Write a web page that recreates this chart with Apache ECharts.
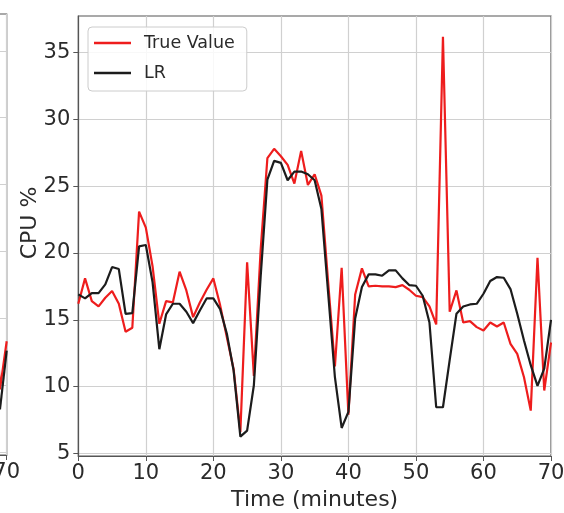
<!DOCTYPE html>
<html>
<head>
<meta charset="utf-8">
<script src="https://cdn.jsdelivr.net/npm/echarts@6/dist/echarts.min.js"></script>
<style>
  html, body { margin: 0; padding: 0; background: #fff; }
  #chart { width: 564px; height: 513px; }
</style>
</head>
<body>
<div id="chart"></div>
<script>
// Time axis (minutes)
const minutes = [0,1,2,3,4,5,6,7,8,9,10,11,12,13,14,15,16,17,18,19,20,21,22,23,24,25,26,27,28,29,30,31,32,33,34,35,36,37,38,39,40,41,42,43,44,45,46,47,48,49,50,51,52,53,54,55,56,57,58,59,60,61,62,63,64,65,66,67,68,69,70];

// Measured CPU utilisation (%)
const trueValue = [16.2,18.1,16.4,16.0,16.65,17.15,16.2,14.1,14.4,23.1,
  21.9,19.0,14.7,16.4,16.3,18.6,17.2,15.2,16.3,17.25,
  18.1,16.1,13.7,11.3,6.6,19.3,10.8,20.2,27.1,27.8,
  27.25,26.6,25.2,27.65,25.1,25.9,24.3,17.8,11.5,18.9,
  7.9,16.9,18.85,17.5,17.55,17.5,17.5,17.45,17.6,17.25,
  16.8,16.7,16.0,14.65,36.2,15.6,17.2,14.8,14.9,14.45,
  14.2,14.8,14.5,14.8,13.2,12.45,10.7,8.2,19.65,9.7,13.3];

// Linear regression forecast (%)
const lrPred = [16.9,16.6,17.0,17.0,17.65,18.95,18.8,15.45,15.5,20.5,
  20.6,17.8,12.8,15.4,16.2,16.2,15.6,14.75,15.7,16.6,
  16.6,15.8,13.95,11.2,6.25,6.7,10.1,18.2,25.5,26.9,
  26.75,25.45,26.1,26.1,25.9,25.45,23.3,17.0,10.7,6.9,
  8.1,15.1,17.45,18.4,18.4,18.3,18.7,18.7,18.1,17.6,
  17.55,16.8,14.8,8.45,8.45,12.0,15.45,16.0,16.15,16.2,
  16.95,17.9,18.2,18.15,17.3,15.45,13.45,11.6,10.05,11.35,15.0];

// Neighbouring panel: forecast tail (minute, %)
const sidePanelMinutes = [69, 70];
const sidePanelPred = [8.2, 12.6];

const yTicks = [5, 10, 15, 20, 25, 30, 35];

const RED = '#ee1d1d';
const BLACK = '#1c1c1c';
const FRAME = '#555555';
const GRID = '#d0d0d0';
const TEXT = '#2a2a2a';
const FONT = 'DejaVu Sans';

const pairs = (xs, ys) => xs.map((x, i) => [x, ys[i]]);

const chart = echarts.init(document.getElementById('chart'), null, { renderer: 'canvas' });

function valueAxisY(gridIndex, withLabels) {
  return {
    type: 'value', gridIndex, min: 4.8, max: 37.75,
    axisLine: { show: true, lineStyle: { color: FRAME, width: 1.2 } },
    axisTick: { show: true, inside: false, length: 5, customValues: yTicks, lineStyle: { color: FRAME, width: 1 } },
    axisLabel: { show: withLabels, customValues: yTicks, margin: 8, color: TEXT, fontFamily: FONT, fontSize: 21 },
    splitLine: { show: true, lineStyle: { color: GRID, width: 1.2 } },
    name: withLabels ? 'CPU %' : '', nameLocation: 'middle', nameGap: 37, nameMoveOverlap: false,
    nameTextStyle: { color: TEXT, fontFamily: FONT, fontSize: 22, padding: [0, 0, 0, 26] }
  };
}

function valueAxisX(gridIndex, withName) {
  return {
    type: 'value', gridIndex, min: 0, max: 70, interval: 10,
    axisLine: { show: true, onZero: false, lineStyle: { color: FRAME, width: 1.2 } },
    axisTick: { show: true, inside: false, length: 5, lineStyle: { color: FRAME, width: 1 } },
    axisLabel: { show: true, margin: 7, color: TEXT, fontFamily: FONT, fontSize: 21,
                 showMinLabel: true, showMaxLabel: true, hideOverlap: false },
    splitLine: { show: true, lineStyle: { color: GRID, width: 1.2 } },
    name: withName ? 'Time (minutes)' : '', nameLocation: 'middle', nameGap: 33, nameMoveOverlap: false,
    nameTextStyle: { color: TEXT, fontFamily: FONT, fontSize: 22 }
  };
}

chart.setOption({
  animation: false,
  backgroundColor: '#ffffff',
  grid: [
    { left: 78.3, right: 13, top: 16, bottom: 57, show: true, borderColor: FRAME, borderWidth: 1.2,
      backgroundColor: 'transparent', outerBoundsMode: 'none', containLabel: false },
    { left: -466, width: 472.7, top: 14, bottom: 58, show: true, borderColor: FRAME, borderWidth: 1.2,
      backgroundColor: 'transparent', outerBoundsMode: 'none', containLabel: false }
  ],
  xAxis: [valueAxisX(0, true), valueAxisX(1, false)],
  yAxis: [valueAxisY(0, true), valueAxisY(1, false)],
  legend: {
    orient: 'vertical', left: 88, top: 27,
    padding: [6, 12, 8, 6], itemGap: 10,
    itemWidth: 37, itemHeight: 2.5,
    backgroundColor: 'rgba(255,255,255,0.85)',
    borderColor: '#cccccc', borderWidth: 1, borderRadius: 4,
    textStyle: { color: TEXT, fontFamily: FONT, fontSize: 17.5, lineHeight: 20, padding: [0, 0, 0, 8] },
    data: [
      { name: 'True Value', icon: 'rect', itemStyle: { color: RED } },
      { name: 'LR', icon: 'rect', itemStyle: { color: BLACK } }
    ]
  },
  series: [
    { name: 'True Value', type: 'line', xAxisIndex: 0, yAxisIndex: 0, data: pairs(minutes, trueValue),
      showSymbol: false, symbol: 'none', lineStyle: { color: RED, width: 2.2 }, itemStyle: { color: RED }, z: 2 },
    { name: 'LR', type: 'line', xAxisIndex: 0, yAxisIndex: 0, data: pairs(minutes, lrPred),
      showSymbol: false, symbol: 'none', lineStyle: { color: BLACK, width: 2.2 }, itemStyle: { color: BLACK }, z: 3 },
    { name: 'side-true', type: 'line', xAxisIndex: 1, yAxisIndex: 1, data: pairs(minutes, trueValue),
      showSymbol: false, symbol: 'none', lineStyle: { color: RED, width: 2.2 }, z: 2 },
    { name: 'side-pred', type: 'line', xAxisIndex: 1, yAxisIndex: 1, data: pairs(sidePanelMinutes, sidePanelPred),
      showSymbol: false, symbol: 'none', lineStyle: { color: BLACK, width: 2.2 }, z: 3 }
  ]
});
</script>
</body>
</html>
